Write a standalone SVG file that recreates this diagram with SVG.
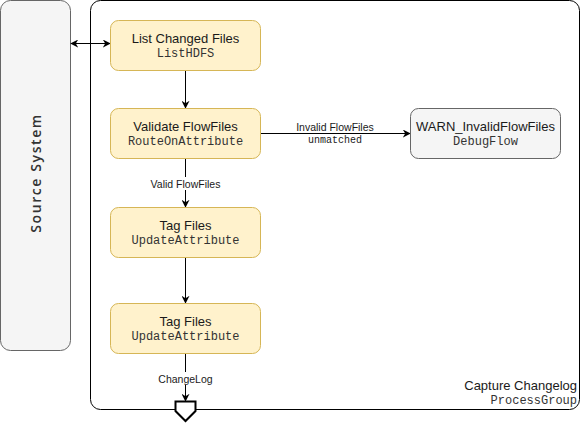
<svg xmlns="http://www.w3.org/2000/svg" width="582" height="423" viewBox="0 0 582 423">
<style>
.proc{fill:#fff2cc;stroke:#d6b656;stroke-width:1}
.gray{fill:#f5f5f5;stroke:#666666;stroke-width:1}
.t{font-family:"Liberation Sans",Arial,sans-serif;font-size:13px;fill:#1a1a1a;text-anchor:middle}
.m{font-family:"Liberation Mono","Courier New",monospace;font-size:12px;fill:#333333;text-anchor:middle}
.lbl{font-family:"Liberation Sans",Arial,sans-serif;font-size:10.5px;fill:#1a1a1a;text-anchor:middle}
.lm{font-family:"Liberation Mono","Courier New",monospace;font-size:10px;fill:#1a1a1a;text-anchor:middle}
.e{stroke:#000;stroke-width:1;fill:none}
</style>
<defs>
<marker id="ah" viewBox="0 0 10 10" refX="9" refY="5" markerWidth="8" markerHeight="8" markerUnits="userSpaceOnUse" orient="auto-start-reverse">
<path d="M0,0 L10,5 L0,10 L3,5 Z" fill="#000"/>
</marker>
</defs>
<g id="source-system">
<rect class="gray" x="0.5" y="0.5" width="70" height="350" rx="10"/>
<text transform="translate(41,173) rotate(-90)" style="font-family:'Open Sans','Noto Sans',sans-serif;font-size:14px;font-weight:600;letter-spacing:1.6px;fill:#333;text-anchor:middle">Source System</text>
</g>
<g id="process-group">
<rect x="90.5" y="0.5" width="489" height="409" rx="10" fill="#ffffff" stroke="#000" stroke-width="1"/>
<text x="577" y="390" style="font-family:'Liberation Sans',Arial,sans-serif;font-size:13px;fill:#1a1a1a;text-anchor:end">Capture Changelog</text>
<text x="577" y="404" style="font-family:'Liberation Mono','Courier New',monospace;font-size:12px;fill:#333;text-anchor:end">ProcessGroup</text>
</g>
<g id="connectors">
<line class="e" x1="71" y1="43.5" x2="110" y2="43.5" marker-start="url(#ah)" marker-end="url(#ah)"/>
<line class="e" x1="185.5" y1="70.5" x2="185.5" y2="108" marker-end="url(#ah)"/>
<line class="e" x1="260.5" y1="133.5" x2="410" y2="133.5" marker-end="url(#ah)"/>
<rect x="290" y="121" width="90" height="11" fill="#fff"/>
<text class="lbl" x="335" y="131">Invalid FlowFiles</text>
<text class="lm" x="335" y="143">unmatched</text>
<line class="e" x1="185.5" y1="158.5" x2="185.5" y2="207" marker-end="url(#ah)"/>
<rect x="148" y="177" width="75" height="13" fill="#fff"/>
<text class="lbl" x="185.5" y="187.5">Valid FlowFiles</text>
<line class="e" x1="185.5" y1="257.5" x2="185.5" y2="303" marker-end="url(#ah)"/>
<line class="e" x1="185.5" y1="353.5" x2="185.5" y2="401" marker-end="url(#ah)"/>
<rect x="156" y="372" width="59" height="13" fill="#fff"/>
<text class="lbl" x="185.5" y="382.5">ChangeLog</text>
</g>
<g id="list-changed-files">
<rect class="proc" x="110.5" y="20.5" width="150" height="50" rx="8"/>
<text class="t" x="185.5" y="43">List Changed Files</text>
<text class="m" x="185.5" y="57">ListHDFS</text>
</g>
<g id="validate-flowfiles">
<rect class="proc" x="110.5" y="108.5" width="150" height="50" rx="8"/>
<text class="t" x="185.5" y="131">Validate FlowFiles</text>
<text class="m" x="185.5" y="145">RouteOnAttribute</text>
</g>
<g id="warn-invalid">
<rect class="gray" x="410.5" y="108.5" width="150" height="50" rx="8"/>
<text class="t" x="485.5" y="131">WARN_InvalidFlowFiles</text>
<text class="m" x="485.5" y="145">DebugFlow</text>
</g>
<g id="tag-files-1">
<rect class="proc" x="110.5" y="207.5" width="150" height="50" rx="8"/>
<text class="t" x="185.5" y="230">Tag Files</text>
<text class="m" x="185.5" y="244">UpdateAttribute</text>
</g>
<g id="tag-files-2">
<rect class="proc" x="110.5" y="303.5" width="150" height="50" rx="8"/>
<text class="t" x="185.5" y="326">Tag Files</text>
<text class="m" x="185.5" y="340">UpdateAttribute</text>
</g>
<g id="output-port">
<polygon points="175.5,401.5 195.5,401.5 195.5,411 185.5,421 175.5,411" fill="#fff" stroke="#000" stroke-width="2" stroke-linejoin="miter"/>
</g>
</svg>
